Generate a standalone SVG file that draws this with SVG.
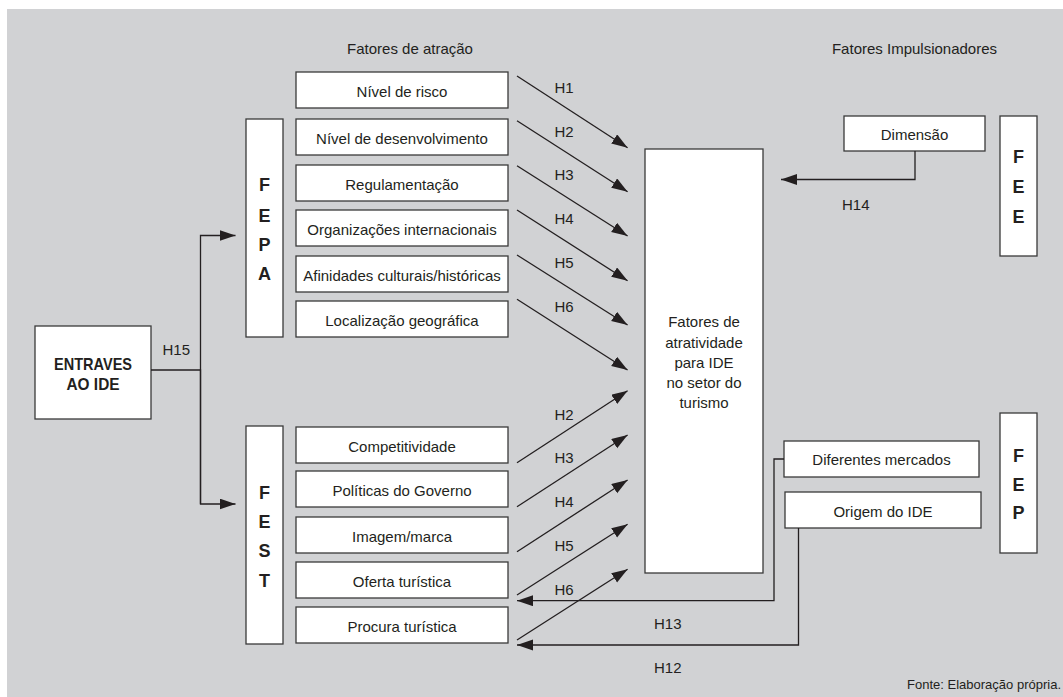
<svg xmlns="http://www.w3.org/2000/svg" width="1063" height="697" viewBox="0 0 1063 697">
<style>
.bg{fill:#d1d2d4}
.box{fill:#fff;stroke:#3a3a3a;stroke-width:1.3}
text{font-family:"Liberation Sans",Arial,sans-serif;fill:#231f20}
.t{font-size:15px;text-anchor:middle}
.l{font-size:15px;text-anchor:start}
.b{font-size:18px;font-weight:bold;text-anchor:middle}
.eb{font-size:17px;font-weight:bold;text-anchor:middle}
.c{fill:none;stroke:#231f20;stroke-width:1.3;marker-end:url(#arr)}
.src{font-size:13px;text-anchor:end}
</style>
<defs>
<marker id="arr" markerUnits="userSpaceOnUse" markerWidth="17" markerHeight="12" refX="16" refY="5.5" orient="auto">
<path d="M0,0 L16,5.5 L0,11 z" fill="#231f20"/>
</marker>
</defs>
<rect class="bg" x="7" y="9" width="1056" height="688"/>

<text class="t" x="410" y="54">Fatores de atração</text>
<text class="t" x="914.5" y="54">Fatores Impulsionadores</text>

<g id="entraves">
<rect class="box" x="35" y="326" width="116" height="93"/>
<text class="eb" x="93" y="370" textLength="78" lengthAdjust="spacingAndGlyphs">ENTRAVES</text>
<text class="eb" x="93" y="389.5" textLength="53" lengthAdjust="spacingAndGlyphs">AO IDE</text>
</g>

<g id="fepa">
<rect class="box" x="246" y="119" width="37" height="218"/>
<text class="b" x="264.5" y="190.7">F</text>
<text class="b" x="264.5" y="221.5">E</text>
<text class="b" x="264.5" y="250.7">P</text>
<text class="b" x="264.5" y="280">A</text>
</g>

<g id="fest">
<rect class="box" x="246" y="426" width="37" height="218"/>
<text class="b" x="264.5" y="499.4">F</text>
<text class="b" x="264.5" y="528">E</text>
<text class="b" x="264.5" y="557.4">S</text>
<text class="b" x="264.5" y="586.7">T</text>
</g>

<g id="nivel-risco"><rect class="box" x="296" y="72" width="212" height="36"/><text class="t" x="402" y="96.5">Nível de risco</text></g>
<g id="nivel-desenvolvimento"><rect class="box" x="296" y="119" width="212" height="36"/><text class="t" x="402" y="143.5">Nível de desenvolvimento</text></g>
<g id="regulamentacao"><rect class="box" x="296" y="165" width="212" height="36"/><text class="t" x="402" y="189.5">Regulamentação</text></g>
<g id="organizacoes"><rect class="box" x="296" y="210" width="212" height="36"/><text class="t" x="402" y="234.5">Organizações internacionais</text></g>
<g id="afinidades"><rect class="box" x="296" y="256" width="212" height="36"/><text class="t" x="402" y="280.5">Afinidades culturais/históricas</text></g>
<g id="localizacao"><rect class="box" x="296" y="301" width="212" height="36"/><text class="t" x="402" y="325.5">Localização geográfica</text></g>

<g id="competitividade"><rect class="box" x="296" y="427" width="212" height="36"/><text class="t" x="402" y="451.5">Competitividade</text></g>
<g id="politicas"><rect class="box" x="296" y="471" width="212" height="36"/><text class="t" x="402" y="495.5">Políticas do Governo</text></g>
<g id="imagem"><rect class="box" x="296" y="517" width="212" height="36"/><text class="t" x="402" y="541.5">Imagem/marca</text></g>
<g id="oferta"><rect class="box" x="296" y="562" width="212" height="36"/><text class="t" x="402" y="586.5">Oferta turística</text></g>
<g id="procura"><rect class="box" x="296" y="607" width="212" height="36"/><text class="t" x="402" y="631.5">Procura turística</text></g>

<g id="fatores-atratividade">
<rect class="box" x="645" y="149" width="118" height="424"/>
<text class="t" x="704" y="327">Fatores de</text>
<text class="t" x="704" y="347.5">atratividade</text>
<text class="t" x="704" y="368">para IDE</text>
<text class="t" x="704" y="388">no setor do</text>
<text class="t" x="704" y="408">turismo</text>
</g>

<g id="dimensao"><rect class="box" x="844" y="116" width="141" height="35"/><text class="t" x="914.5" y="140">Dimensão</text></g>
<g id="fee">
<rect class="box" x="1000" y="116" width="37" height="140"/>
<text class="b" x="1018.5" y="163.4">F</text>
<text class="b" x="1018.5" y="193.4">E</text>
<text class="b" x="1018.5" y="222.7">E</text>
</g>

<g id="diferentes-mercados"><rect class="box" x="784" y="441" width="195" height="36"/><text class="t" x="881.5" y="465">Diferentes mercados</text></g>
<g id="origem-ide"><rect class="box" x="785" y="492" width="196" height="36"/><text class="t" x="883" y="516.5">Origem do IDE</text></g>
<g id="fep">
<rect class="box" x="1000" y="413" width="37" height="140"/>
<text class="b" x="1018.5" y="462.4">F</text>
<text class="b" x="1018.5" y="490.7">E</text>
<text class="b" x="1018.5" y="519.4">P</text>
</g>

<g id="connectors">
<path class="c" d="M200.5 504 V235.5 H235.5"/>
<path class="c" d="M151 370 H200.5 V504 H235.5"/>
<path class="c" d="M517 76 L627.6 147.7"/>
<path class="c" d="M517 120.7 L627.6 191.7"/>
<path class="c" d="M517 165.7 L627.6 236"/>
<path class="c" d="M517 210 L627.6 280.7"/>
<path class="c" d="M517 255 L627.6 325"/>
<path class="c" d="M517 299.3 L627.6 370"/>
<path class="c" d="M517 462.7 L627.6 390.7"/>
<path class="c" d="M517 506.7 L627.6 435"/>
<path class="c" d="M517 551.7 L627.6 480"/>
<path class="c" d="M517 595 L627.6 524.3"/>
<path class="c" d="M517 640 L627.6 569.3"/>
<path class="c" d="M915 151 V179.5 H781"/>
<path class="c" d="M784 459 H774 V600.7 H517"/>
<path class="c" d="M798.5 528 V645 H517"/>
</g>

<g id="labels">
<text class="l" x="162.5" y="355">H15</text>
<text class="l" x="554.5" y="93">H1</text>
<text class="l" x="554.5" y="136.7">H2</text>
<text class="l" x="554.5" y="180.3">H3</text>
<text class="l" x="554.5" y="224.3">H4</text>
<text class="l" x="554.5" y="268.3">H5</text>
<text class="l" x="554.5" y="312.3">H6</text>
<text class="l" x="554.5" y="420">H2</text>
<text class="l" x="554.5" y="463.3">H3</text>
<text class="l" x="554.5" y="506.7">H4</text>
<text class="l" x="554.5" y="551">H5</text>
<text class="l" x="554.5" y="595">H6</text>
<text class="l" x="842" y="210">H14</text>
<text class="l" x="654" y="629.3">H13</text>
<text class="l" x="654" y="673.3">H12</text>
</g>

<text class="src" x="1061" y="688.5">Fonte: Elaboração própria.</text>
</svg>
